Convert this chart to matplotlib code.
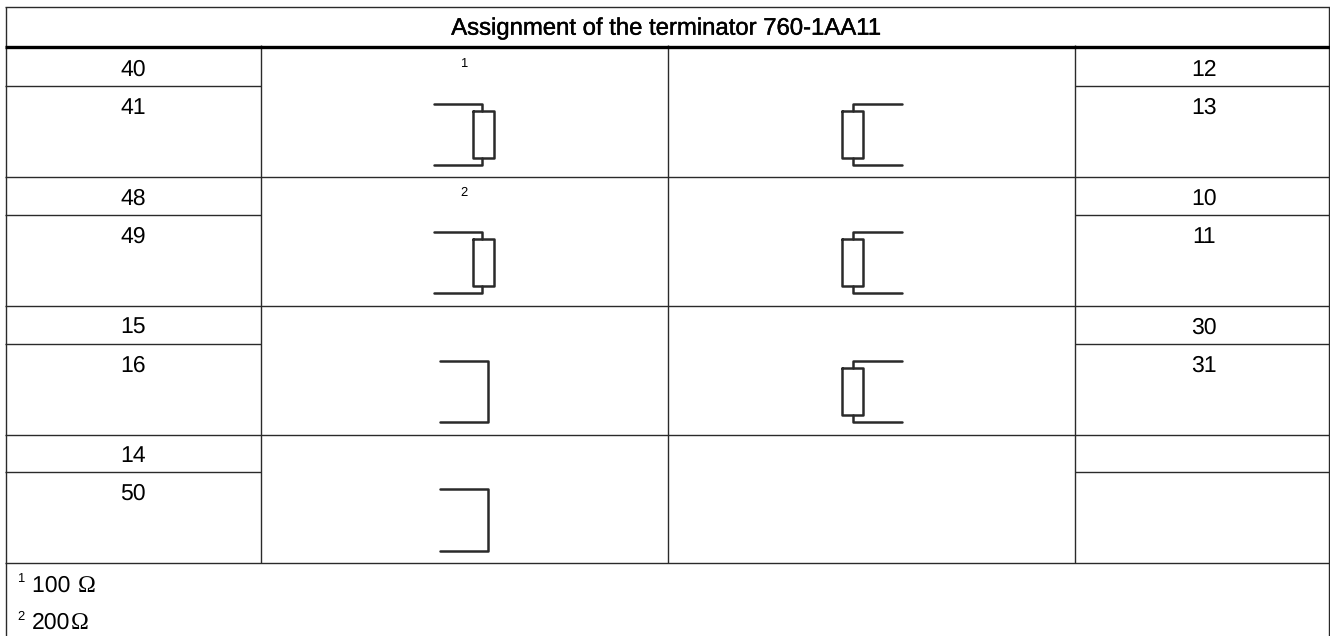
import matplotlib
matplotlib.use("Agg")
import matplotlib.pyplot as plt
import matplotlib.patheffects as pe

plt.rcParams['font.family'] = ['Liberation Sans', 'DejaVu Sans']
plt.rcParams['text.hinting'] = 'none'
plt.rcParams['text.hinting_factor'] = 1

title = "Assignment of the terminator 760-1AA11"
left_upper = ["40", "48", "15", "14"]
left_lower = ["41", "49", "16", "50"]
right_upper = ["12", "10", "30", ""]
right_lower = ["13", "11", "31", ""]
left_symbol = ["resistor", "resistor", "short", "short"]
right_symbol = ["resistor", "resistor", "resistor", ""]
note_marks = ["1", "2", "", ""]
foot_marks = ["1", "2"]
foot_values = ["100 ", "200"]
ohm_x = [78, 71]

row_top = [47.7, 176.7, 305.7, 434]
symbol_top = [48.7, 176.7, 305.7, 434.3]
LINE = "#2a2a2a"
SIZE = 16.6

fig = plt.figure(figsize=(13.3, 6.36), dpi=100)
ax = fig.add_axes([0, 0, 1, 1])
ax.set_xlim(0, 1330)
ax.set_ylim(636, 0)
ax.axis("off")

def hline(y, x0, x1, lw=1.0, color=LINE):
    ax.plot([x0, x1], [y, y], color=color, lw=lw, solid_capstyle="butt")

def vline(x, y0, y1, lw=1.0, color=LINE):
    ax.plot([x, x], [y0, y1], color=color, lw=lw, solid_capstyle="butt")

def wire(xs, ys):
    ax.plot(xs, ys, color=LINE, lw=1.8, solid_capstyle="round", solid_joinstyle="round")

def resistor(top, side):
    y0 = top + 55
    y1 = top + 116.5
    if side == "left":
        x_end, x_stub, bx0, bx1 = 434.3, 482.4, 472.7, 494
    else:
        x_end, x_stub, bx0, bx1 = 901.7, 853.3, 842.3, 863.3
    wire([x_end, x_stub, x_stub], [y0, y0, top + 62.6])
    wire([x_end, x_stub, x_stub], [y1, y1, top + 109])
    wire([bx0, bx1, bx1, bx0, bx0], [top + 62.6, top + 62.6, top + 109, top + 109, top + 62.6])

def short(top):
    wire([440, 488.2, 488.2, 440], [top + 55, top + 55, top + 116.3, top + 116.3])

# outer frame and header
hline(6.7, 5, 1330)
vline(6, 6.7, 636)
vline(1329.3, 6.7, 636)
for x in (261, 668, 1075):
    vline(x, 44.5, 563)
hline(46.5, 5, 1330, lw=2.4, color="black")
ax.text(667, 28.5, title, ha="center", va="center", fontsize=17.2, color="black",
        path_effects=[pe.withStroke(linewidth=0.3, foreground="black")])

for i, top in enumerate(row_top):
    hline(top + 129, 5, 1330)
    hline(top + 38.3, 5, 261)
    hline(top + 38.3, 1075, 1329)
    ax.text(133, top + 22, left_upper[i], ha="center", va="center", fontsize=SIZE)
    ax.text(133, top + 60, left_lower[i], ha="center", va="center", fontsize=SIZE)
    ax.text(1204, top + 22, right_upper[i], ha="center", va="center", fontsize=SIZE)
    ax.text(1204, top + 60, right_lower[i], ha="center", va="center", fontsize=SIZE)
    ax.text(464, top + 16, note_marks[i], ha="center", va="center", fontsize=9.5)
    if left_symbol[i] == "resistor":
        resistor(symbol_top[i], "left")
    else:
        short(symbol_top[i])
    if right_symbol[i] == "resistor":
        resistor(symbol_top[i], "right")

for mark, val, ox, y in zip(foot_marks, foot_values, ohm_x, (585.5, 623.2)):
    ax.text(17, y - 6.5, mark, ha="left", va="center", fontsize=9.5)
    ax.text(32, y, val, ha="left", va="center", fontsize=SIZE)
    ax.text(ox, y + 0.5, "Ω", ha="left", va="center", fontsize=SIZE + 0.6, family="Liberation Serif")

fig.savefig("out.png", dpi=100)
